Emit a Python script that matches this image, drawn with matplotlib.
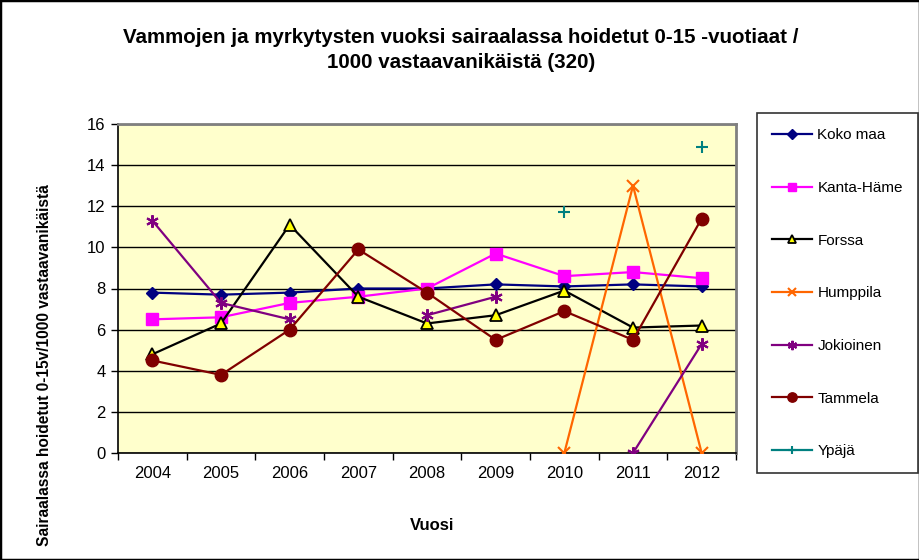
import numpy as np
import matplotlib
matplotlib.use("Agg")
import matplotlib.pyplot as plt
from matplotlib.patches import Rectangle

plt.rcParams['font.family'] = ['Liberation Sans', 'DejaVu Sans']

years = ['2004', '2005', '2006', '2007', '2008', '2009', '2010', '2011', '2012']
nan = np.nan
koko_maa   = [7.8, 7.7, 7.8, 8.0, 8.0, 8.2, 8.1, 8.2, 8.1]
kanta_hame = [6.5, 6.6, 7.3, 7.6, 8.0, 9.7, 8.6, 8.8, 8.5]
forssa     = [4.8, 6.3, 11.1, 7.6, 6.3, 6.7, 7.9, 6.1, 6.2]
humppila   = [nan, nan, nan, nan, nan, nan, 0.0, 13.0, 0.0]
jokioinen  = [11.3, 7.3, 6.5, nan, 6.7, 7.6, nan, 0.0, 5.3]
tammela    = [4.5, 3.8, 6.0, 9.9, 7.8, 5.5, 6.9, 5.5, 11.4]
ypaja      = [nan, nan, nan, nan, nan, nan, 11.7, nan, 14.9]

title = "Vammojen ja myrkytysten vuoksi sairaalassa hoidetut 0-15 -vuotiaat /\n1000 vastaavanikäistä (320)"
ylabel = "Sairaalassa hoidetut 0-15v/1000 vastaavanikäistä"
xlabel = "Vuosi"

W, H = 920, 560
fig = plt.figure(figsize=(W / 100, H / 100), dpi=100)
fig.patch.set_facecolor('white')
fig.patches.append(Rectangle((0, 0), 1, 1, transform=fig.transFigure, fill=False,
                             edgecolor='black', linewidth=2.5, zorder=10))

l, r, t, b = 118, 736, 124, 453
ax = fig.add_axes([l / W, 1 - b / H, (r - l) / W, (b - t) / H])
ax.set_facecolor('#FFFFCC')

x = np.arange(len(years))
lw = 1.6
ax.plot(x, koko_maa, color='#000080', lw=lw, marker='D', ms=6.5, mfc='#000080', mec='#000080', label='Koko maa', zorder=3)
ax.plot(x, kanta_hame, color='#FF00FF', lw=lw, marker='s', ms=8.5, mfc='#FF00FF', mec='#FF00FF', label='Kanta-Häme', zorder=3)
ax.plot(x, forssa, color='black', lw=lw, marker='^', ms=8.5, mfc='#FFFF00', mec='black', mew=1.3, label='Forssa', zorder=3)
ax.plot(x, humppila, color='#FF6600', lw=lw, marker='x', ms=8, mec='#FF6600', mew=1.5, label='Humppila', zorder=3)
ax.plot(x, jokioinen, color='#800080', lw=lw, marker=(6, 2, 0), ms=9, mec='#800080', mew=1.5, label='Jokioinen', zorder=3)
ax.plot(x, tammela, color='#800000', lw=lw, marker='o', ms=9, mfc='#800000', mec='#800000', label='Tammela', zorder=3)
ax.plot(x, ypaja, color='#008080', lw=lw, marker='+', ms=8, mew=1.5, label='Ypäjä', zorder=3)

ax.set_xlim(-0.5, len(years) - 0.5)
ax.set_ylim(0, 16)
ax.set_yticks(np.arange(0, 17, 2))
ax.yaxis.grid(True, color='black', lw=1.0)
ax.set_axisbelow(True)
ax.set_xticks(x)
ax.set_xticklabels(years, fontsize=12)
ax.set_xticks(np.arange(-0.5, len(years), 1), minor=True)
ax.tick_params(axis='x', which='major', length=0, pad=9)
ax.tick_params(axis='x', which='minor', length=5, width=1, direction='out', color='black')
ax.tick_params(axis='y', length=5, width=1, direction='out', labelsize=12, pad=4)

for s in ['top', 'right']:
    ax.spines[s].set_color('#808080')
    ax.spines[s].set_linewidth(2)
for s in ['left', 'bottom']:
    ax.spines[s].set_color('black')
    ax.spines[s].set_linewidth(1.2)

fig.text(461 / W, 1 - 50 / H, title, ha='center', va='center', fontsize=14.8,
         fontweight='bold', linespacing=1.35)
fig.text(45 / W, 1 - 365 / H, ylabel, ha='center', va='center', rotation=90,
         fontsize=11.2, fontweight='bold')
fig.text(432 / W, 1 - 525 / H, xlabel, ha='center', va='center', fontsize=12,
         fontweight='bold')

leg = fig.legend(loc='upper left', bbox_to_anchor=(757 / W, 1 - 113 / H),
                 frameon=True, fancybox=False, edgecolor='black', fontsize=11,
                 labelspacing=2.53, handlelength=2.6, handletextpad=0.35,
                 borderpad=1.0, borderaxespad=0, markerscale=0.75)
leg.get_frame().set_linewidth(1.2)

fig.savefig('out.png', dpi=100)
